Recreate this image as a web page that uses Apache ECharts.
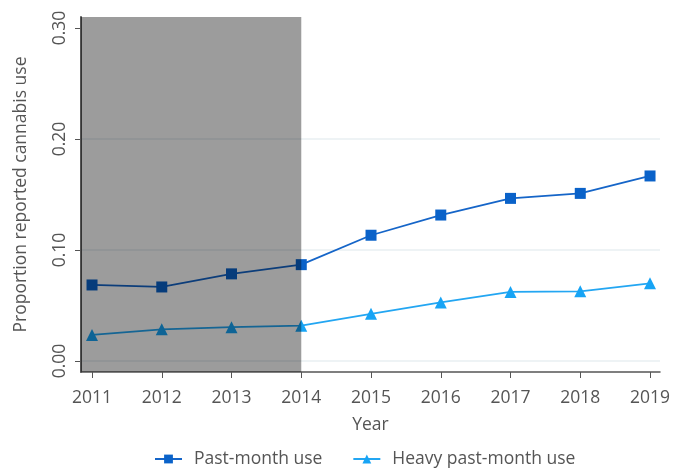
<!DOCTYPE html>
<html>
<head>
<meta charset="utf-8">
<script src="https://cdn.jsdelivr.net/npm/echarts@6/dist/echarts.min.js"></script>
<style>
  html, body { margin: 0; padding: 0; background: #fff; }
  #chart { width: 673px; height: 471px; }
</style>
</head>
<body>
<div id="chart"></div>
<script>
// data
var years = [2011, 2012, 2013, 2014, 2015, 2016, 2017, 2018, 2019]
var pastMonth = [0.0685, 0.0667, 0.0785, 0.0868, 0.1133, 0.1315, 0.1465, 0.151, 0.1667]
var heavyPastMonth = [0.0235, 0.0285, 0.0305, 0.0318, 0.0425, 0.0528, 0.0622, 0.0628, 0.0700]
var yTicks = [0, 0.1, 0.2, 0.3]
var shadedYears = [2010.842, 2014]

var font = 'Open Sans'
var textColor = '#555'
var fontSize = 17.5

function pairs(vals) {
  return vals.map(function (v, i) { return [years[i], v] })
}

var chart = echarts.init(document.getElementById('chart'))
chart.setOption({
  animation: false,
  textStyle: { fontFamily: font },
  grid: {
    left: 81,
    right: 13,
    top: 17,
    bottom: 99,
    outerBoundsMode: 'none'
  },
  legend: {
    bottom: -2,
    left: 149,
    itemWidth: 27,
    itemHeight: 11,
    itemGap: 30,
    textStyle: { fontSize: fontSize, color: textColor, fontFamily: font, padding: [0, 0, 0, 7] },
    data: ['Past-month use', 'Heavy past-month use']
  },
  xAxis: {
    type: 'value',
    min: 2010.842,
    max: 2019.143,
    name: 'Year',
    nameLocation: 'middle',
    nameGap: 44,
    nameTextStyle: { fontSize: fontSize, color: textColor },
    axisLine: { onZero: false, lineStyle: { color: '#555', width: 1.5 } },
    axisTick: { show: true, length: 6, customValues: years, lineStyle: { color: '#555' } },
    axisLabel: {
      customValues: years,
      formatter: function (v) { return String(v) },
      fontSize: fontSize,
      color: textColor,
      margin: 17
    },
    splitLine: { show: false }
  },
  yAxis: {
    type: 'value',
    min: -0.0099,
    max: 0.3099,
    name: 'Proportion reported cannabis use',
    nameLocation: 'middle',
    nameGap: 51,
    nameTextStyle: { fontSize: fontSize, color: textColor },
    axisLine: { show: true, onZero: false, lineStyle: { color: '#555', width: 2 } },
    axisTick: { show: true, length: 6, customValues: yTicks, lineStyle: { color: '#555' } },
    axisLabel: {
      customValues: yTicks,
      formatter: function (v) { return v.toFixed(2) },
      rotate: 90,
      fontSize: fontSize,
      color: textColor,
      margin: 12
    },
    splitLine: {
      show: true,
      lineStyle: { color: ['#e9eff2', '#e9eff2', '#e9eff2', 'rgba(0,0,0,0)'], width: 1.5 }
    }
  },
  series: [
    {
      name: 'Past-month use',
      type: 'line',
      data: pairs(pastMonth),
      symbol: 'rect',
      symbolSize: 11,
      itemStyle: { color: '#0a62c9' },
      lineStyle: { color: '#1565c8', width: 1.8 }
    },
    {
      name: 'Heavy past-month use',
      type: 'line',
      data: pairs(heavyPastMonth),
      symbol: 'triangle',
      symbolSize: 12,
      itemStyle: { color: '#17a4f5' },
      lineStyle: { color: '#23a6f2', width: 1.8 }
    },
    {
      name: 'shade',
      type: 'line',
      data: [],
      silent: true,
      markArea: {
        z: 10,
        silent: true,
        itemStyle: { color: 'rgba(0,0,0,0.39)' },
        data: [[{ xAxis: shadedYears[0], yAxis: 'max' }, { xAxis: shadedYears[1], yAxis: 'min' }]]
      }
    }
  ]
})
</script>
</body>
</html>
